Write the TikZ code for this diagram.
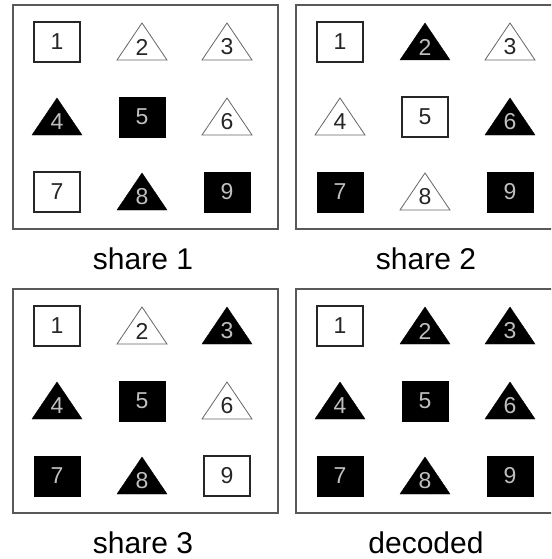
\documentclass[tikz,border=0pt]{standalone}
\usepackage{fontspec}
\setmainfont{Liberation Sans}
\usepackage{tikz}
\usetikzlibrary{positioning}
\newcommand{\cellfont}{\fontsize{23}{23}\selectfont}
\newcommand{\capfont}{\fontsize{30}{30}\selectfont}

\begin{document}
\begin{tikzpicture}[x=1pt, y=-1pt,
  panel/.style={draw=black!65, line width=1.4pt},
  sqw/.style={rectangle, draw=black!85, line width=1.8pt, fill=white,
              minimum width=46pt, minimum height=40pt, inner sep=0pt,
              text=black!85, font=\cellfont},
  sqb/.style={rectangle, draw=black, fill=black,
              minimum width=46pt, minimum height=40pt, inner sep=0pt,
              text=black!25, font=\cellfont},
  triw/.style={draw=black!60, line width=0.8pt, fill=white},
  trib/.style={draw=black, fill=black},
  numw/.style={inner sep=0pt, text=black!85, font=\cellfont},
  numb/.style={inner sep=0pt, text=black!25, font=\cellfont},
  caption/.style={font=\capfont}
]
  \clip (0,0) rectangle (551,559);
  \fill[white] (0,0) rectangle (551,559);

  % S = white square, Q = black square, T = white triangle, B = black triangle
  \foreach \px/\py/\pid/\cells/\lbl in {
      13/5/1/{S,T,T,B,Q,T,S,B,Q}/share 1,
      296/5/2/{S,B,T,T,S,B,Q,T,Q}/share 2,
      13/289/3/{S,T,B,B,Q,T,Q,B,S}/share 3,
      296/289/4/{S,B,B,B,Q,B,Q,B,Q}/decoded} {
    \draw[panel] (\px,\py) rectangle ++(265,224);
    \node[caption] (lbl\pid) at (\px+130,\py+254) {\lbl};
    \foreach \c [count=\k] in \cells {
      \pgfmathsetmacro\cx{\px+44+85*mod(\k-1,3)}
      \pgfmathsetmacro\cy{\py+37+75*int((\k-1)/3)}
      \if\c S \node[sqw] (c\pid\k) at (\cx,\cy) {\k}; \fi
      \if\c Q \node[sqb] (c\pid\k) at (\cx,\cy) {\k}; \fi
      \if\c T
        \draw[triw] (\cx-25,\cy+18) -- (\cx,\cy-19) -- (\cx+25,\cy+18) -- cycle;
        \node[numw] (c\pid\k) at (\cx,\cy+5) {\k};
      \fi
      \if\c B
        \draw[trib] (\cx-25,\cy+18) -- (\cx,\cy-19) -- (\cx+25,\cy+18) -- cycle;
        \node[numb] (c\pid\k) at (\cx,\cy+5) {\k};
      \fi
    }
  }
\end{tikzpicture}
\end{document}
